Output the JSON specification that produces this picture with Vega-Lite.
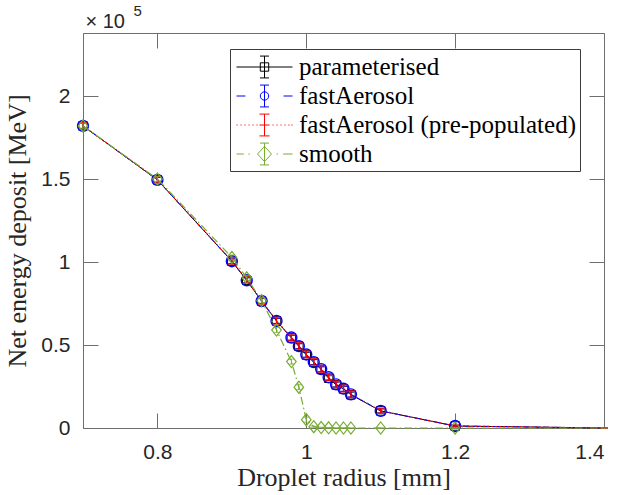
{
  "$schema": "https://vega.github.io/schema/vega-lite/v6.json",
  "width": 521,
  "height": 395,
  "autosize": {"type": "none"},
  "padding": {"left": 83, "top": 33, "right": 19, "bottom": 67},
  "background": "white",
  "config": {
    "view": {"stroke": "#6e6e6e", "strokeWidth": 1},
    "axis": {"grid": false, "domainColor": "#6e6e6e", "tickColor": "#6e6e6e", "tickSize": -15, "labelFont": "Liberation Sans", "labelFontSize": 21, "labelColor": "#262626", "titleFont": "Liberation Serif", "titleFontSize": 26, "titleFontWeight": "normal", "titleColor": "#262626"},
    "legend": {"orient": "none", "legendX": 147, "legendY": 16, "padding": 3.5, "rowPadding": 1, "strokeColor": "#3c3c3c", "fillColor": "white", "symbolSize": 784, "symbolStrokeWidth": 1, "labelFont": "Liberation Serif", "labelFontSize": 25, "labelColor": "#000000", "labelLimit": 500, "symbolOffset": 16.5, "labelOffset": 20}
  },
  "datasets": {
    "rows": [
      {"series": "parameterised", "x": 0.7, "y": 182000, "err": 1500},
      {"series": "parameterised", "x": 0.8, "y": 149500, "err": 1500},
      {"series": "parameterised", "x": 0.9, "y": 100500, "err": 1500},
      {"series": "parameterised", "x": 0.92, "y": 89000, "err": 1500},
      {"series": "parameterised", "x": 0.94, "y": 76500, "err": 1500},
      {"series": "parameterised", "x": 0.96, "y": 64500, "err": 1500},
      {"series": "parameterised", "x": 0.98, "y": 54300, "err": 1500},
      {"series": "parameterised", "x": 0.99, "y": 49300, "err": 1500},
      {"series": "parameterised", "x": 1.0, "y": 44000, "err": 1500},
      {"series": "parameterised", "x": 1.01, "y": 39700, "err": 1500},
      {"series": "parameterised", "x": 1.02, "y": 35300, "err": 1500},
      {"series": "parameterised", "x": 1.03, "y": 30000, "err": 1500},
      {"series": "parameterised", "x": 1.04, "y": 26000, "err": 1500},
      {"series": "parameterised", "x": 1.05, "y": 23500, "err": 1500},
      {"series": "parameterised", "x": 1.06, "y": 20000, "err": 1500},
      {"series": "parameterised", "x": 1.1, "y": 10300, "err": 1200},
      {"series": "parameterised", "x": 1.2, "y": 1200, "err": 500},
      {"series": "parameterised", "x": 1.4, "y": 0, "err": 0},
      {"series": "fastAerosol", "x": 0.7, "y": 182000, "err": 1500},
      {"series": "fastAerosol", "x": 0.8, "y": 149500, "err": 1500},
      {"series": "fastAerosol", "x": 0.9, "y": 100500, "err": 1500},
      {"series": "fastAerosol", "x": 0.92, "y": 89000, "err": 1500},
      {"series": "fastAerosol", "x": 0.94, "y": 76500, "err": 1500},
      {"series": "fastAerosol", "x": 0.96, "y": 64500, "err": 1500},
      {"series": "fastAerosol", "x": 0.98, "y": 54500, "err": 1500},
      {"series": "fastAerosol", "x": 0.99, "y": 49300, "err": 1500},
      {"series": "fastAerosol", "x": 1.0, "y": 44300, "err": 1500},
      {"series": "fastAerosol", "x": 1.01, "y": 39700, "err": 1500},
      {"series": "fastAerosol", "x": 1.02, "y": 35500, "err": 1500},
      {"series": "fastAerosol", "x": 1.03, "y": 30600, "err": 1500},
      {"series": "fastAerosol", "x": 1.04, "y": 26300, "err": 1500},
      {"series": "fastAerosol", "x": 1.05, "y": 23700, "err": 1500},
      {"series": "fastAerosol", "x": 1.06, "y": 20300, "err": 1500},
      {"series": "fastAerosol", "x": 1.1, "y": 10300, "err": 1200},
      {"series": "fastAerosol", "x": 1.2, "y": 1200, "err": 500},
      {"series": "fastAerosol", "x": 1.4, "y": 0, "err": 0},
      {"series": "fastAerosol (pre-populated)", "x": 0.7, "y": 182000, "err": 2000},
      {"series": "fastAerosol (pre-populated)", "x": 0.8, "y": 149700, "err": 2000},
      {"series": "fastAerosol (pre-populated)", "x": 0.9, "y": 100700, "err": 2000},
      {"series": "fastAerosol (pre-populated)", "x": 0.92, "y": 89200, "err": 2000},
      {"series": "fastAerosol (pre-populated)", "x": 0.94, "y": 76600, "err": 2000},
      {"series": "fastAerosol (pre-populated)", "x": 0.96, "y": 64600, "err": 2000},
      {"series": "fastAerosol (pre-populated)", "x": 0.98, "y": 54600, "err": 2000},
      {"series": "fastAerosol (pre-populated)", "x": 0.99, "y": 49400, "err": 2000},
      {"series": "fastAerosol (pre-populated)", "x": 1.0, "y": 44400, "err": 2000},
      {"series": "fastAerosol (pre-populated)", "x": 1.01, "y": 39800, "err": 2000},
      {"series": "fastAerosol (pre-populated)", "x": 1.02, "y": 35600, "err": 2000},
      {"series": "fastAerosol (pre-populated)", "x": 1.03, "y": 30700, "err": 2000},
      {"series": "fastAerosol (pre-populated)", "x": 1.04, "y": 26400, "err": 2000},
      {"series": "fastAerosol (pre-populated)", "x": 1.05, "y": 23800, "err": 2000},
      {"series": "fastAerosol (pre-populated)", "x": 1.06, "y": 20400, "err": 2000},
      {"series": "fastAerosol (pre-populated)", "x": 1.1, "y": 10400, "err": 1500},
      {"series": "fastAerosol (pre-populated)", "x": 1.2, "y": 1200, "err": 600},
      {"series": "fastAerosol (pre-populated)", "x": 1.4, "y": 0, "err": 0},
      {"series": "smooth", "x": 0.7, "y": 182000, "err": 1500},
      {"series": "smooth", "x": 0.8, "y": 150000, "err": 1500},
      {"series": "smooth", "x": 0.9, "y": 102800, "err": 1500},
      {"series": "smooth", "x": 0.92, "y": 90500, "err": 1500},
      {"series": "smooth", "x": 0.94, "y": 76800, "err": 1500},
      {"series": "smooth", "x": 0.96, "y": 59000, "err": 1500},
      {"series": "smooth", "x": 0.98, "y": 40000, "err": 1500},
      {"series": "smooth", "x": 0.99, "y": 24600, "err": 1500},
      {"series": "smooth", "x": 1.0, "y": 5000, "err": 1500},
      {"series": "smooth", "x": 1.01, "y": 800, "err": 400},
      {"series": "smooth", "x": 1.02, "y": 300, "err": 200},
      {"series": "smooth", "x": 1.03, "y": 100, "err": 100},
      {"series": "smooth", "x": 1.04, "y": 0, "err": 0},
      {"series": "smooth", "x": 1.05, "y": 0, "err": 0},
      {"series": "smooth", "x": 1.06, "y": 0, "err": 0},
      {"series": "smooth", "x": 1.1, "y": 0, "err": 0},
      {"series": "smooth", "x": 1.2, "y": 0, "err": 0},
      {"series": "smooth", "x": 1.4, "y": 0, "err": 0}
    ]
  },
  "data": {"name": "rows"},
  "encoding": {
    "x": {"field": "x", "type": "quantitative", "scale": {"domain": [0.7, 1.4], "nice": false, "zero": false}, "axis": null},
    "y": {"field": "y", "type": "quantitative", "scale": {"domain": [0, 238000], "nice": false}, "axis": null}
  },
  "layer": [
    {
      "transform": [{"filter": "datum.series == 'parameterised'"}],
      "mark": {"type": "line", "color": "#000000", "strokeWidth": 1},
      "encoding": {
        "x": {"field": "x", "type": "quantitative", "axis": {"values": [0.8, 1, 1.2, 1.4], "format": "~g", "title": "Droplet radius [mm]", "labelPadding": 28, "titlePadding": 2}},
        "y": {"field": "y", "type": "quantitative", "axis": {"values": [0, 50000, 100000, 150000, 200000], "labelExpr": "format(datum.value / 100000, '~g')", "title": "Net energy deposit [MeV]", "labelPadding": 28, "titlePadding": 10}}
      }
    },
    {
      "transform": [{"filter": "datum.series == 'parameterised'"}],
      "mark": {"type": "errorbar", "color": "#000000", "ticks": {"size": 7, "thickness": 1}, "thickness": 1},
      "encoding": {"yError": {"field": "err"}}
    },
    {
      "transform": [{"filter": "datum.series == 'parameterised' && datum.x < 1.4"}],
      "mark": {"type": "point", "shape": "square", "filled": false, "size": 72, "color": "#000000", "strokeWidth": 1, "opacity": 1}
    },
    {
      "transform": [{"filter": "datum.series == 'fastAerosol'"}],
      "mark": {"type": "line", "color": "#0000ff", "strokeWidth": 1, "strokeDash": [6, 4]}
    },
    {
      "transform": [{"filter": "datum.series == 'fastAerosol'"}],
      "mark": {"type": "errorbar", "color": "#0000ff", "ticks": {"size": 7, "thickness": 1}, "thickness": 1},
      "encoding": {"yError": {"field": "err"}}
    },
    {
      "transform": [{"filter": "datum.series == 'fastAerosol' && datum.x < 1.4"}],
      "mark": {"type": "point", "shape": "circle", "filled": false, "size": 120, "color": "#0000ff", "strokeWidth": 1.4, "opacity": 1}
    },
    {
      "transform": [{"filter": "datum.series == 'fastAerosol (pre-populated)'"}],
      "mark": {"type": "line", "color": "#ff0000", "strokeWidth": 1.2, "strokeDash": [1.5, 2.5]}
    },
    {
      "transform": [{"filter": "datum.series == 'fastAerosol (pre-populated)'"}],
      "mark": {"type": "errorbar", "color": "#ff0000", "ticks": {"size": 8, "thickness": 1.4}, "thickness": 1.4},
      "encoding": {"yError": {"field": "err"}}
    },
    {
      "transform": [{"filter": "datum.series == 'smooth'"}],
      "mark": {"type": "line", "color": "#77ac30", "strokeWidth": 1.2, "strokeDash": [8, 3, 1.5, 3]}
    },
    {
      "transform": [{"filter": "datum.series == 'smooth'"}],
      "mark": {"type": "errorbar", "color": "#77ac30", "ticks": {"size": 7, "thickness": 1}, "thickness": 1},
      "encoding": {"yError": {"field": "err"}}
    },
    {
      "transform": [{"filter": "datum.series == 'smooth' && datum.x < 1.4"}],
      "mark": {"type": "point", "shape": "M0,-1L0.8,0L0,1L-0.8,0Z", "filled": false, "size": 144, "color": "#77ac30", "strokeWidth": 1.2, "opacity": 1}
    },
    {
      "mark": {"type": "point", "filled": false, "opacity": 0, "size": 784},
      "encoding": {
        "x": {"field": "x", "type": "quantitative", "axis": {"orient": "top", "values": [0.8, 1, 1.2, 1.4], "labels": false, "domain": false, "title": "× 10", "titleX": 2, "titleY": -6, "titleAlign": "left", "titleAnchor": null, "titleBaseline": "alphabetic", "titleAngle": 0, "titleFont": "Liberation Sans", "titleFontSize": 20, "titleColor": "#262626"}},
        "y": {"field": "y", "type": "quantitative", "axis": {"orient": "right", "values": [0, 50000, 100000, 150000, 200000], "labels": false, "domain": false, "title": "5", "titleX": -471, "titleY": -18, "titleAlign": "left", "titleAnchor": null, "titleBaseline": "alphabetic", "titleAngle": 0, "titleFont": "Liberation Sans", "titleFontSize": 15, "titleColor": "#262626"}},
        "shape": {
          "field": "series", "type": "nominal",
          "scale": {
            "domain": ["parameterised", "fastAerosol", "fastAerosol (pre-populated)", "smooth"],
            "range": [
              "M-2,0H2M0,-0.78V0.78M-0.32,-0.78H0.32M-0.32,0.78H0.32M-0.3,-0.3H0.3V0.3H-0.3Z",
              "M-2,0H-1.36M1.36,0H2M-0.3,0A0.3,0.3 0 1,0 0.3,0A0.3,0.3 0 1,0 -0.3,0M0,-0.78V0.78M-0.32,-0.78H0.32M-0.32,0.78H0.32",
              "M-2,0h0.08M-1.71,0h0.08M-1.43,0h0.08M-1.14,0h0.08M-0.86,0h0.08M-0.57,0h0.08M0.57,0h0.08M0.86,0h0.08M1.14,0h0.08M1.43,0h0.08M1.71,0h0.08M1.92,0h0.08M0,-0.78V0.78M-0.36,-0.78H0.36M-0.36,0.78H0.36M-0.36,0H0.36",
              "M-2,0H-1.48M-1.15,0h0.1M0.86,0h0.1M1.33,0H2M0,-0.54L0.5,0L0,0.54L-0.5,0ZM0,-0.78V0.78M-0.32,-0.78H0.32M-0.32,0.78H0.32"
            ]
          },
          "legend": {"title": null, "encode": {"symbols": {"update": {"opacity": {"value": 1}, "fill": {"value": "transparent"}}}}}
        },
        "stroke": {
          "field": "series", "type": "nominal",
          "scale": {
            "domain": ["parameterised", "fastAerosol", "fastAerosol (pre-populated)", "smooth"],
            "range": ["#000000", "#0000ff", "#ff0000", "#77ac30"]
          },
          "legend": {"title": null, "encode": {"symbols": {"update": {"opacity": {"value": 1}, "fill": {"value": "transparent"}}}}}
        }
      }
    }
  ],
  "resolve": {"axis": {"x": "independent", "y": "independent"}}
}
